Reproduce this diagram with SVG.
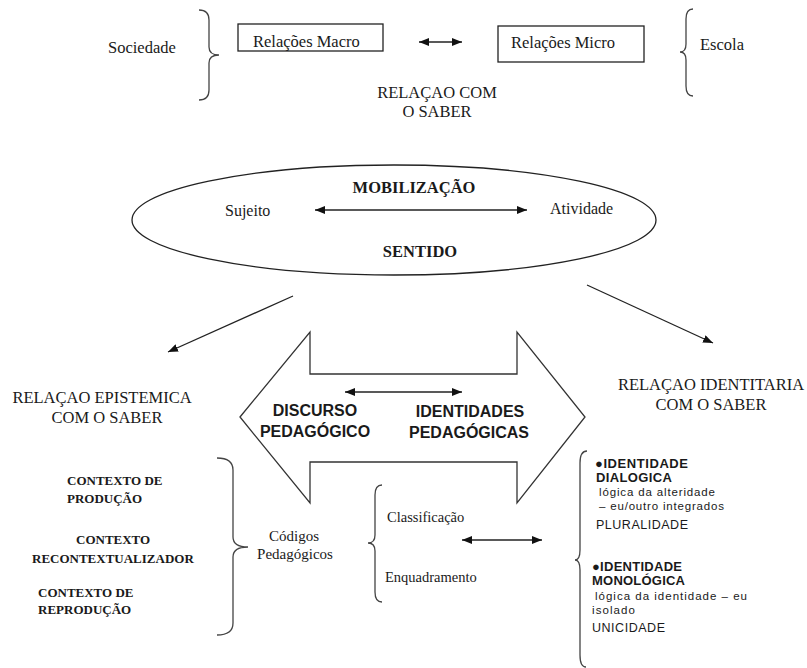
<svg xmlns="http://www.w3.org/2000/svg" width="807" height="668" viewBox="0 0 807 668">
<style>
.serif{font-family:"Liberation Serif","Times New Roman",serif;fill:#1a1a1a}
.sans{font-family:"Liberation Sans",Arial,sans-serif;fill:#1a1a1a}
.r165{font-size:16.5px}
.r16{font-size:16px}
.r15{font-size:15px}
.r145{font-size:14.5px}
.b165{font-size:16.5px;font-weight:bold}
.b13{font-size:13px;font-weight:bold}
.sb16{font-size:16px;font-weight:bold}
.sb13{font-size:13px;font-weight:bold}
.sr13{font-size:12.5px}
.sr115{font-size:11.5px}
.box{fill:#fff;stroke:#222;stroke-width:1.3}
.line{fill:none;stroke:#222;stroke-width:1.3}
.brace{fill:none;stroke:#444;stroke-width:1.3}
.shape{fill:#fff;stroke:#333;stroke-width:1.3}
</style>
<defs>
<marker id="ah" viewBox="0 0 10 8" refX="10" refY="4" markerWidth="10" markerHeight="8" markerUnits="userSpaceOnUse" orient="auto-start-reverse">
<path d="M0,0 L10,4 L0,8 Z" fill="#111"/>
</marker>
</defs>

<g id="sociedade">
<path class="brace" d="M199,10 Q209,10 209,20 L209,47 Q209,55 219,55 Q209,55 209,63 L209,90 Q209,100 199,100"/>
<text class="serif r165" x="108" y="53">Sociedade</text>
</g>
<g id="relacoes-macro">
<rect class="box" x="238" y="24" width="145" height="27"/>
<text class="serif r165" x="253" y="47">Relações Macro</text>
</g>
<g id="relacoes-micro">
<rect class="box" x="498" y="26" width="146" height="36"/>
<text class="serif r165" x="511" y="48">Relações Micro</text>
</g>
<g id="escola">
<path class="brace" d="M693,9 Q686,9 686,19 L686,44 Q686,52 680,52 Q686,52 686,60 L686,86 Q686,96 693,96"/>
<text class="serif r165" x="700" y="50">Escola</text>
</g>
<g id="relacao-com-saber">
<text class="serif r165" x="437" y="98" text-anchor="middle">RELAÇAO COM</text>
<text class="serif r165" x="437" y="117" text-anchor="middle">O SABER</text>
</g>

<g id="mobilizacao">
<ellipse class="box" cx="394" cy="220" rx="262" ry="55"/>
<text class="serif b165" x="414" y="193" text-anchor="middle">MOBILIZAÇÃO</text>
<text class="serif r16" x="225" y="216">Sujeito</text>
<text class="serif r16" x="550" y="214">Atividade</text>
<text class="serif b165" x="420" y="257" text-anchor="middle">SENTIDO</text>
</g>

<g id="discurso-identidades">
<polygon class="shape" points="240,417 310,332 310,374 517,374 517,332 585,417 517,503 517,462 310,462 310,503"/>
<text class="sans sb16" x="315" y="416" text-anchor="middle">DISCURSO</text>
<text class="sans sb16" x="315" y="437" text-anchor="middle">PEDAGÓGICO</text>
<text class="sans sb16" x="470" y="417" text-anchor="middle">IDENTIDADES</text>
<text class="sans sb16" x="469" y="438" text-anchor="middle">PEDAGÓGICAS</text>
</g>

<g id="relacao-epistemica">
<text class="serif r165" x="102" y="403" text-anchor="middle">RELAÇAO EPISTEMICA</text>
<text class="serif r165" x="107" y="423" text-anchor="middle">COM O SABER</text>
</g>
<g id="relacao-identitaria">
<text class="serif r165" x="711" y="390" text-anchor="middle">RELAÇAO IDENTITARIA</text>
<text class="serif r165" x="711" y="410" text-anchor="middle">COM O SABER</text>
</g>

<g id="contextos">
<text class="serif b13" x="67" y="485">CONTEXTO DE</text>
<text class="serif b13" x="67" y="503">PRODUÇÃO</text>
<text class="serif b13" x="76" y="544">CONTEXTO</text>
<text class="serif b13" x="32" y="563">RECONTEXTUALIZADOR</text>
<text class="serif b13" x="38" y="597">CONTEXTO DE</text>
<text class="serif b13" x="38" y="614">REPRODUÇÃO</text>
</g>
<g id="codigos">
<path class="brace" d="M217,458 Q233,458 233,470 L233,537 Q233,547 248,547 Q233,547 233,557 L233,623 Q233,635 217,635"/>
<text class="serif r15" x="294" y="541" text-anchor="middle">Códigos</text>
<text class="serif r15" x="295" y="559" text-anchor="middle">Pedagógicos</text>
</g>
<g id="classificacao">
<path class="brace" d="M382,485 Q375,485 375,495 L375,535 Q375,543 368,543 Q375,543 375,551 L375,592 Q375,602 382,602"/>
<text class="serif r145" x="387" y="522">Classificação</text>
<text class="serif r145" x="385" y="582">Enquadramento</text>
</g>
<g id="identidades">
<path class="brace" d="M587,451 Q580,451 580,463 L580,550 Q580,560 575,560 Q580,560 580,570 L580,655 Q580,667 586,667"/>
<text class="sans sb13" x="595" y="468" textLength="93">●IDENTIDADE</text>
<text class="sans sb13" x="596" y="482" textLength="76">DIALOGICA</text>
<text class="sans sr115" x="599" y="496" textLength="116">lógica da alteridade</text>
<text class="sans sr115" x="599" y="510" textLength="125">– eu/outro integrados</text>
<text class="sans sr13" x="596" y="529" textLength="92">PLURALIDADE</text>
<text class="sans sb13" x="592" y="571" textLength="90">●IDENTIDADE</text>
<text class="sans sb13" x="592" y="585" textLength="93">MONOLÓGICA</text>
<text class="sans sr115" x="595" y="600" textLength="152">lógica da identidade – eu</text>
<text class="sans sr115" x="592" y="614" textLength="43">isolado</text>
<text class="sans sr13" x="592" y="632" textLength="73">UNICIDADE</text>
</g>

<g id="connectors">
<line class="line" x1="419" y1="42" x2="462" y2="42" marker-start="url(#ah)" marker-end="url(#ah)"/>
<line class="line" x1="315" y1="210" x2="527" y2="210" marker-start="url(#ah)" marker-end="url(#ah)"/>
<line class="line" x1="293" y1="296" x2="168" y2="352" marker-end="url(#ah)"/>
<line class="line" x1="587" y1="285" x2="713" y2="343" marker-end="url(#ah)"/>
<line class="line" x1="345" y1="392" x2="462" y2="392" marker-start="url(#ah)" marker-end="url(#ah)"/>
<line class="line" x1="462" y1="540" x2="542" y2="540" marker-start="url(#ah)" marker-end="url(#ah)"/>
</g>
</svg>
